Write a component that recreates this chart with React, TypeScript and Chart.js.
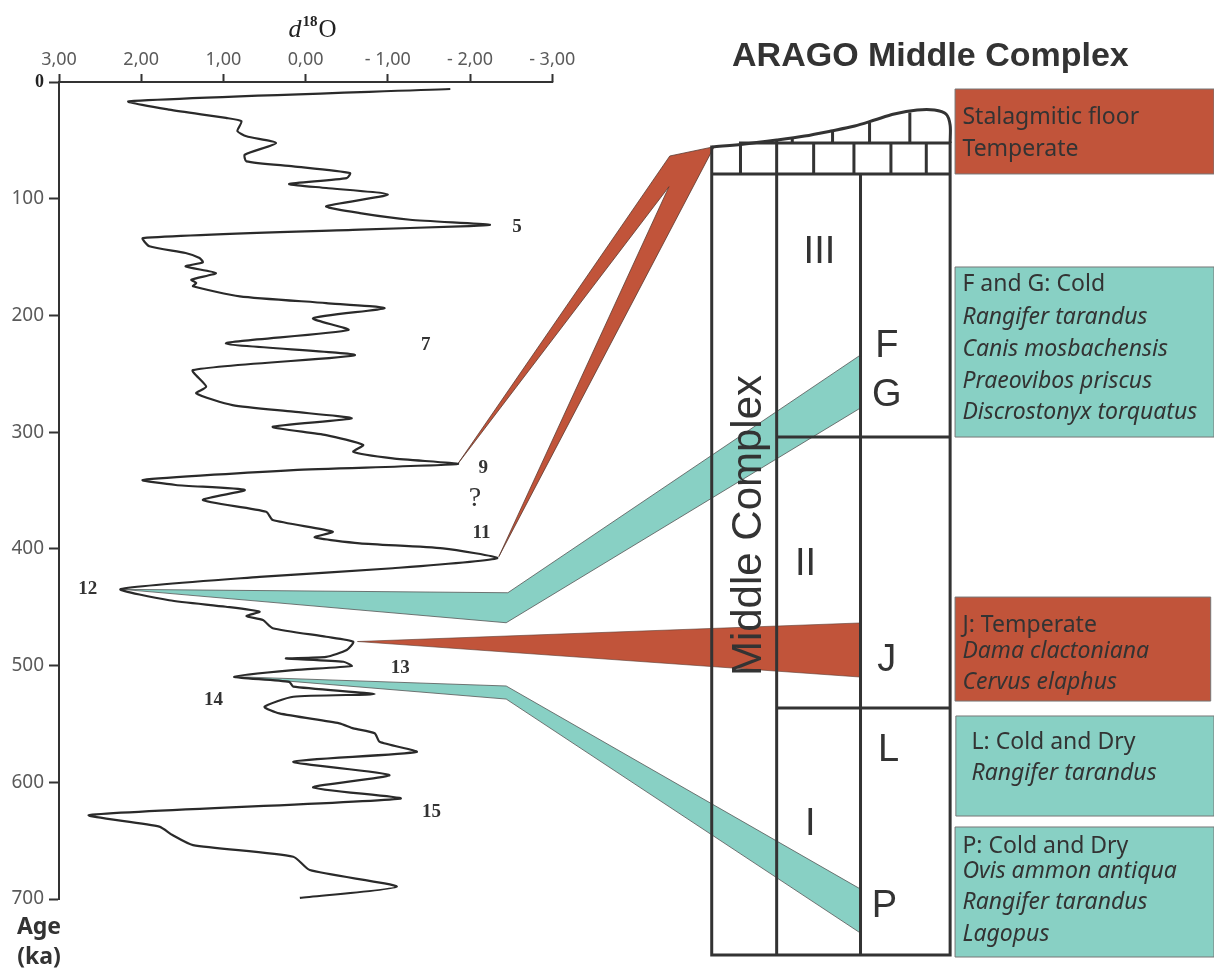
import React, { useEffect, useRef } from 'react';
import { Chart, registerables } from 'chart.js';

Chart.register(...registerables);

// ---------- axes ----------
const xTickValues = [3, 2, 1, 0, -1, -2, -3];
const yTickValues = [0, 100, 200, 300, 400, 500, 600, 700];
const xAxisMin = -11.05; // right edge of the figure (schematic area shares the d18O scale)
const xAxisMax = 3;
const yAxisMin = 0;
const yAxisMax = 700;

// ---------- d18O curve (value, age ka) ----------
const curveDelta = [
  -1.76, 2.15, 1.66, 0.97, 0.78, 0.83, 0.72, 0.36, 0.74, 0.72, 0.15, -0.54, -0.5, 0.2, -0.25, -1.0,
  -0.25, -0.66, -1.27, -2.24, -1.88, -0.66, 1.98, 1.9, 1.46, 1.29, 1.25, 1.46, 1.09, 1.39, 1.33, 1.37,
  0.8, -0.25, -0.96, -0.09, -0.52, 0.97, -0.6, 1.37, 1.21, 1.33, 0.89, 0.15, -0.56, 0.4, -0.25, -0.7,
  -0.58, -1.06, -1.85, 0.15, 1.98, 1.58, 0.74, 1.25, 0.48, 0.4, -0.33, -0.11, -0.66, -1.67, -2.33,
  -1.06, 0.56, 2.25, 1.66, 0.97, 0.56, 0.72, 0.52, 0.4, -0.25, -0.58, -0.5, -0.25, 0.24, -0.46, -0.56,
  0.15, 0.87, 0.2, 0.15, -0.84, 0.15, 0.5, 0.32, -0.41, -0.58, -0.84, -0.9, -1.35, 0.15, -1.02, -0.09,
  -1.15, 2.63, 1.78, 1.62, 1.37, 0.15, -0.05, -1.11, 0.07,
];
const curveAge = [
  6.0, 16.5, 23.7, 30.8, 33.7, 42.0, 46.5, 52.3, 62.3, 68.0, 72.3, 78.0, 82.3, 87.4, 90.8, 96.5,
  106.5, 112.3, 118.0, 122.3, 123.7, 126.5, 133.7, 140.8, 146.5, 150.8, 154.5, 158.0, 163.7, 169.4, 172.2, 175.0,
  183.6, 189.4, 193.8, 202.5, 212.5, 224.0, 234.0, 246.8, 261.0, 266.7, 276.8, 282.5, 288.2, 295.4, 302.5, 311.0,
  316.8, 322.5, 327.3, 332.5, 341.0, 345.3, 349.6, 358.2, 368.2, 375.3, 385.3, 390.1, 395.3, 399.6, 408.0,
  416.6, 424.0, 434.5, 444.0, 449.6, 453.9, 457.6, 461.0, 468.0, 475.3, 479.6, 486.7, 492.5, 493.9, 496.7, 500.4,
  503.9, 509.6, 513.9, 518.0, 524.4, 526.7, 535.3, 541.0, 549.5, 553.8, 558.0, 565.3, 574.0, 582.4, 593.8, 604.4,
  614.0, 628.1, 638.0, 645.2, 653.8, 663.8, 675.2, 689.5, 699.0,
];

// ---------- stage numbers on the curve ----------
const stageLabels = ['5', '7', '9', '?', '11', '12', '13', '14', '15'];
const stageLabelDelta = [-2.57, -1.46, -2.16, -2.06, -2.14, 2.65, -1.15, 1.12, -1.53];
const stageLabelAge = [124.2, 225.3, 330.7, 356.7, 386.4, 434.4, 502.4, 529.5, 625.5];

// ---------- stratigraphic column (d18O-scale x, age y) ----------
const columnEdgesX = [-4.94, -5.73, -6.75, -7.84]; // outer left, divider 1, divider 2, outer right
const columnBodyTopAge = 78.8;
const brickMidAge = 52.3;
const columnBottomAge = 748;
const unitBoundaryAges = [304.2, 536.4];
const lowerBrickX = [-5.29, -6.18, -6.67, -7.12, -7.55];
const upperBrickX = [-5.92, -6.41, -6.86, -7.35];
const upperBrickTopAge = [49.6, 43.0, 36.0, 27.4];
const floorTopDelta = [-4.95, -5.34, -5.73, -6.07, -6.39, -6.68, -6.92, -7.16, -7.44, -7.65, -7.79, -7.84, -7.84];
const floorTopAge = [55.7, 53.1, 49.7, 46.3, 42.0, 37.7, 32.6, 27.4, 24.0, 24.0, 27.4, 36.8, 52.3];

const unitLabels = ['III', 'II', 'I'];
const unitLabelX = [-6.25, -6.08, -6.14];
const unitLabelAge = [146.5, 413, 635.8];
const layerLabels = ['F', 'G', 'J', 'L', 'P'];
const layerLabelX = [-7.07, -7.07, -7.07, -7.09, -7.04];
const layerLabelAge = [226.6, 268.6, 496, 572.4, 706.5];

// ---------- correlation bands ----------
const redWedgeDelta = [-1.85, -4.43, -4.97, -2.35, -4.42];
const redWedgeAge = [327.3, 63.4, 55.4, 406.7, 89.7];
const tealFGDelta = [2.23, -2.46, -6.75, -6.75, -2.44];
const tealFGAge = [434.7, 437.6, 233.9, 279.3, 463.3];
const redJDelta = [-0.63, -6.74, -6.74];
const redJAge = [479.4, 463.5, 509.8];
const tealPDelta = [0.87, -2.44, -6.75, -6.75, -2.44];
const tealPAge = [509.5, 517.5, 691.5, 729.2, 528.7];

// ---------- legend boxes ----------
const boxLeft = [-7.9, -7.9, -7.9, -7.91, -7.9];
const boxRight = [-11.05, -11.05, -11.01, -11.05, -11.05];
const boxTopAge = [6.0, 158.5, 441.3, 543.2, 638.3];
const boxBottomAge = [78.8, 304.2, 530.4, 628.9, 749.7];
const boxKind = ['warm', 'cold', 'warm', 'cold', 'cold'];

const boxLines = [
  'Stalagmitic floor', 'Temperate',
  'F and G: Cold', 'Rangifer tarandus', 'Canis mosbachensis', 'Praeovibos priscus', 'Discrostonyx torquatus',
  'J: Temperate', 'Dama clactoniana', 'Cervus elaphus',
  'L: Cold and Dry', 'Rangifer tarandus',
  'P: Cold and Dry', 'Ovis ammon antiqua', 'Rangifer tarandus', 'Lagopus',
];
const boxLineX = [-7.99, -7.99, -7.99, -7.99, -7.99, -7.99, -7.99, -7.99, -7.99, -7.99, -8.1, -8.1, -7.99, -7.99, -7.99, -7.99];
const boxLineAge = [30.0, 57.4, 173.1, 201.4, 228.8, 256.2, 282.8, 465.3, 487.5, 514.1, 565.5, 592.1, 654.6, 676.0, 702.6, 730.0];
const boxLineItalic = [false, false, false, true, true, true, true, false, true, true, false, true, false, true, true, true];

const titleText = 'ARAGO Middle Complex';
const titleX = -7.6;
const titleAge = -21.4;
const columnTitle = 'Middle Complex';
const columnTitleX = -5.4;
const columnTitleAge = 380;

// ---------- colours ----------
const WARM = '#C1543A';
const COLD = '#88D0C4';
const INK = '#333333';

const pts = (xs: number[], ys: number[]) => xs.map((x, i) => ({ x, y: ys[i] }));

function buildColumnSegments() {
  const [L, D1, D2, R] = columnEdgesX;
  const segs: { x: number; y: number }[][] = [
    [{ x: L, y: floorTopAge[0] }, { x: L, y: columnBottomAge }],
    [{ x: L, y: columnBottomAge }, { x: R, y: columnBottomAge }],
    [{ x: R, y: brickMidAge }, { x: R, y: columnBottomAge }],
    [{ x: L, y: columnBodyTopAge }, { x: R, y: columnBodyTopAge }],
    [{ x: lowerBrickX[0], y: brickMidAge }, { x: R, y: brickMidAge }],
    [{ x: D1, y: floorTopAge[2] + 1.3 }, { x: D1, y: columnBottomAge }],
    [{ x: D2, y: columnBodyTopAge }, { x: D2, y: columnBottomAge }],
  ];
  unitBoundaryAges.forEach((a) => segs.push([{ x: D1, y: a }, { x: R, y: a }]));
  lowerBrickX.forEach((x) => segs.push([{ x, y: brickMidAge }, { x, y: columnBodyTopAge }]));
  upperBrickX.forEach((x, i) => segs.push([{ x, y: upperBrickTopAge[i] }, { x, y: brickMidAge }]));
  const out: any[] = [];
  segs.forEach((s, i) => {
    if (i) out.push({ x: null, y: null });
    out.push(...s);
  });
  return out;
}

function boxPolygon(i: number) {
  return [
    { x: boxLeft[i], y: boxTopAge[i] },
    { x: boxRight[i], y: boxTopAge[i] },
    { x: boxRight[i], y: boxBottomAge[i] },
    { x: boxLeft[i], y: boxBottomAge[i] },
  ];
}

const fmtDelta = (v: number) => (v < 0 ? '- ' : '') + Math.abs(v).toFixed(2).replace('.', ',');

function drawText(ctx: any, text: string, x: number, y: number, font: string, color: string, align = 'left', rotate = 0) {
  ctx.save();
  ctx.font = font;
  ctx.fillStyle = color;
  ctx.textAlign = align;
  ctx.textBaseline = 'middle';
  ctx.translate(x, y);
  if (rotate) ctx.rotate(rotate);
  ctx.fillText(text, 0, 0);
  ctx.restore();
}

const figurePlugin = {
  id: 'figure',
  beforeDatasetsDraw(chart: any) {
    const { ctx, chartArea, scales } = chart;
    const xs = scales.x;
    chart.data.datasets.forEach((ds: any, i: number) => {
      if (!ds.polyFill) return;
      const p = chart.getDatasetMeta(i).data;
      ctx.save();
      ctx.beginPath();
      p.forEach((pt: any, j: number) => (j ? ctx.lineTo(pt.x, pt.y) : ctx.moveTo(pt.x, pt.y)));
      ctx.closePath();
      ctx.fillStyle = ds.polyFill;
      ctx.fill();
      ctx.lineJoin = 'round';
      ctx.lineWidth = ds.polyStrokeWidth;
      ctx.strokeStyle = ds.polyStroke;
      ctx.stroke();
      ctx.restore();
    });
    // top d18O axis line (only over the -3..3 range)
    ctx.save();
    ctx.strokeStyle = INK;
    ctx.lineWidth = 2;
    ctx.beginPath();
    ctx.moveTo(xs.getPixelForValue(xTickValues[0]) - 1, chartArea.top);
    ctx.lineTo(xs.getPixelForValue(xTickValues[xTickValues.length - 1]) + 1, chartArea.top);
    ctx.stroke();
    ctx.restore();
  },
  afterDatasetsDraw(chart: any) {
    const { ctx, chartArea, scales } = chart;
    const xs = scales.x;
    const ys = scales.y;
    const X = (v: number) => xs.getPixelForValue(v);
    const Y = (v: number) => ys.getPixelForValue(v);

    // axis title d18O
    const cx = (X(xTickValues[0]) + X(xTickValues[xTickValues.length - 1])) / 2 + 7;
    const base = chartArea.top - 45;
    const fD = 'italic 26px "Liberation Serif"';
    const f18 = 'bold 15px "Liberation Serif"';
    const fO = '25px "Liberation Serif"';
    ctx.save();
    ctx.textBaseline = 'alphabetic';
    ctx.fillStyle = '#222';
    ctx.font = fD;
    const wd = ctx.measureText('d').width;
    ctx.font = f18;
    const w18 = ctx.measureText('18').width;
    ctx.font = fO;
    const wO = ctx.measureText('O').width;
    let x0 = cx - (wd + w18 + wO + 2) / 2;
    ctx.font = fD;
    ctx.fillText('d', x0, base);
    x0 += wd + 1;
    ctx.font = f18;
    ctx.fillText('18', x0, base - 11);
    x0 += w18 + 1;
    ctx.font = fO;
    ctx.fillText('O', x0, base);
    ctx.restore();

    // Age (ka)
    drawText(ctx, 'Age', chartArea.left - 20, chartArea.bottom + 28, 'bold 23px "Noto Sans"', INK, 'center');
    drawText(ctx, '(ka)', chartArea.left - 20, chartArea.bottom + 58, 'bold 23px "Noto Sans"', INK, 'center');

    // stage numbers
    stageLabels.forEach((s, i) => {
      const font = s === '?' ? '28px "Liberation Serif"' : 'bold 19px "Liberation Serif"';
      drawText(ctx, s, X(stageLabelDelta[i]), Y(stageLabelAge[i]), font, INK, 'center');
    });

    // title
    drawText(ctx, titleText, X(titleX), Y(titleAge), 'bold 34px "Liberation Sans"', INK, 'center');

    // column labels
    drawText(ctx, columnTitle, X(columnTitleX), Y(columnTitleAge), '42px "Liberation Sans"', INK, 'center', -Math.PI / 2);
    unitLabels.forEach((s, i) => drawText(ctx, s, X(unitLabelX[i]), Y(unitLabelAge[i]), '38px "Liberation Sans"', INK, 'center'));
    layerLabels.forEach((s, i) => drawText(ctx, s, X(layerLabelX[i]), Y(layerLabelAge[i]), '38px "Liberation Sans"', INK, 'center'));

    // box texts
    boxLines.forEach((s, i) => {
      const font = `${boxLineItalic[i] ? 'italic ' : ''}23px "Noto Sans"`;
      drawText(ctx, s, X(boxLineX[i]), Y(boxLineAge[i]), font, INK, 'left');
    });
  },
};

function polyDataset(data: any[], fill: string, stroke: string, width: number) {
  return {
    data,
    polyFill: fill,
    polyStroke: stroke,
    polyStrokeWidth: width,
    showLine: false,
    pointRadius: 0,
    pointHoverRadius: 0,
    borderWidth: 0,
    clip: false,
  };
}

export default function App() {
  const ref = useRef<HTMLCanvasElement>(null);
  useEffect(() => {
    const datasets: any[] = [
      {
        data: pts(curveDelta, curveAge),
        showLine: true,
        borderColor: '#2a2a2a',
        borderWidth: 2.2,
        pointRadius: 0,
        tension: 0.2,
      },
      {
        data: buildColumnSegments(),
        showLine: true,
        borderColor: INK,
        borderWidth: 3,
        borderCapStyle: 'square',
        pointRadius: 0,
        clip: false,
      },
      {
        data: pts(floorTopDelta, floorTopAge),
        showLine: true,
        borderColor: INK,
        borderWidth: 3,
        pointRadius: 0,
        tension: 0.3,
        clip: false,
      },
      polyDataset(pts(redWedgeDelta, redWedgeAge), WARM, '#5a3a30', 0.8),
      polyDataset(pts(tealFGDelta, tealFGAge), COLD, '#555', 0.8),
      polyDataset(pts(redJDelta, redJAge), WARM, '#5a3a30', 0.6),
      polyDataset(pts(tealPDelta, tealPAge), COLD, '#555', 0.8),
      ...boxKind.map((k, i) => polyDataset(boxPolygon(i), k === 'warm' ? WARM : COLD, '#777', 1)),
    ];
    const chart = new Chart(ref.current as HTMLCanvasElement, {
      type: 'scatter',
      data: { datasets },
      options: {
        animation: false,
        responsive: false,
        devicePixelRatio: 1,
        events: [],
        layout: { padding: { left: 0, right: 0, top: 0, bottom: 77 } },
        plugins: { legend: { display: false }, tooltip: { enabled: false } },
        scales: {
          x: {
            type: 'linear',
            position: 'top',
            reverse: true,
            min: xAxisMin,
            max: xAxisMax,
            afterBuildTicks: (s: any) => {
              s.ticks = xTickValues.map((v) => ({ value: v }));
            },
            afterFit: (s: any) => {
              s.height = 82;
            },
            grid: { drawOnChartArea: false, drawTicks: true, tickLength: 8, tickColor: INK, tickWidth: 2 },
            border: { display: false },
            ticks: {
              padding: 3,
              autoSkip: false,
              maxRotation: 0,
              color: '#5a5a5a',
              font: { family: 'Noto Sans', size: 18 },
              callback: (v: any) => fmtDelta(Number(v)),
            },
          },
          y: {
            type: 'linear',
            position: 'left',
            reverse: true,
            min: yAxisMin,
            max: yAxisMax,
            afterBuildTicks: (s: any) => {
              s.ticks = yTickValues.map((v) => ({ value: v }));
            },
            afterFit: (s: any) => {
              s.width = 59;
            },
            grid: { drawOnChartArea: false, drawTicks: true, tickLength: 10, tickColor: INK, tickWidth: 2 },
            border: { display: true, color: INK, width: 2 },
            ticks: {
              padding: 5,
              autoSkip: false,
              color: (c: any) => (c.tick && c.tick.value === 0 ? '#222' : '#5a5a5a'),
              font: (c: any) =>
                c.tick && c.tick.value === 0
                  ? { family: 'Liberation Serif', size: 18, weight: 'bold' }
                  : { family: 'Noto Sans', size: 19 },
              callback: (v: any) => String(v),
            },
          },
        },
      },
      plugins: [figurePlugin],
    } as any);
    return () => chart.destroy();
  }, []);
  return (
    <div style={{ position: 'absolute', left: 0, top: 0, width: 1214, height: 976, background: '#fff' }}>
      <canvas ref={ref} width={1214} height={976} style={{ display: 'block', width: 1214, height: 976 }} />
    </div>
  );
}
